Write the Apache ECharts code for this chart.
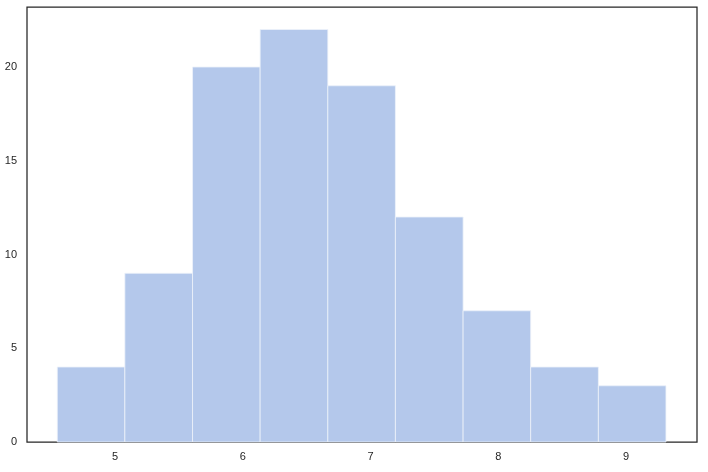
<!DOCTYPE html>
<html>
<head>
<meta charset="utf-8">
<script src="https://cdn.jsdelivr.net/npm/echarts@6/dist/echarts.min.js"></script>
<style>html,body{margin:0;padding:0;background:#fff}#c{width:708px;height:472px}</style>
</head>
<body>
<div id="c"></div>
<script>
// Histogram bin edges (left edge of each bin, plus last right edge)
const binEdges = [4.548, 5.077, 5.607, 6.136, 6.666, 7.195, 7.725, 8.254, 8.784, 9.313];
const counts = [4, 9, 20, 22, 19, 12, 7, 4, 3];
const xTicks = [5, 6, 7, 8, 9];
const yTicks = [0, 5, 10, 15, 20];

const data = counts.map((c, i) => [binEdges[i], binEdges[i + 1], c]);

const chart = echarts.init(document.getElementById('c'), null, {renderer: 'canvas'});
const labelStyle = {color: '#262626', fontSize: 11, fontFamily: '"Liberation Sans", Arial, sans-serif'};
chart.setOption({
  animation: false,
  backgroundColor: '#ffffff',
  grid: {left: 27, right: 11, top: 7, bottom: 30, show: true, borderColor: '#262626', borderWidth: 1.25, backgroundColor: 'transparent'},
  xAxis: {
    type: 'value', min: 4.311, max: 9.556,
    axisLine: {show: false}, axisTick: {show: false}, splitLine: {show: false},
    axisLabel: Object.assign({customValues: xTicks, margin: 9}, labelStyle)
  },
  yAxis: {
    type: 'value', min: 0, max: 23.2,
    axisLine: {show: false}, axisTick: {show: false}, splitLine: {show: false},
    axisLabel: Object.assign({customValues: yTicks, margin: 10}, labelStyle)
  },
  series: [{
    type: 'custom',
    data: data,
    encode: {x: [0, 1], y: 2},
    renderItem: function (params, api) {
      const p0 = api.coord([api.value(0), api.value(2)]);
      const p1 = api.coord([api.value(1), 0]);
      return {
        type: 'rect',
        shape: {x: p0[0], y: p0[1], width: p1[0] - p0[0], height: p1[1] - p0[1]},
        style: {fill: '#b4c8eb', stroke: '#eef2fa', lineWidth: 0.8}
      };
    }
  }]
});
</script>
</body>
</html>
